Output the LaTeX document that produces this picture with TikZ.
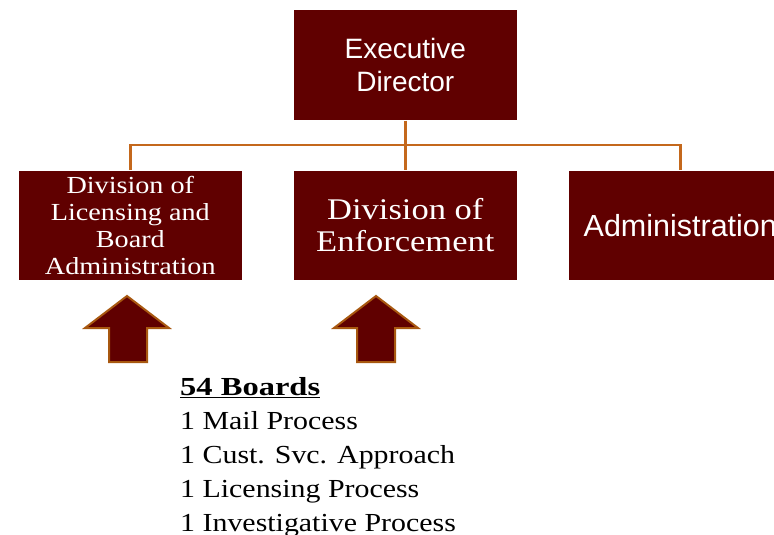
\documentclass[tikz,border=0pt]{standalone}
\usepackage{fontspec}
\setmainfont{Liberation Serif}[FakeStretch=1.15]
\newfontfamily\boldwide{Liberation Serif Bold}[FakeStretch=1.25]
\newfontfamily\boxsans{Liberation Sans}
\definecolor{maroon}{HTML}{600000}
\definecolor{linkor}{HTML}{C4681C}
\definecolor{arrowedge}{HTML}{A85810}
\begin{document}
\begin{tikzpicture}[x=1pt,y=-1pt,
  box/.style={fill=maroon, draw=white, line width=0.6pt, minimum width=224pt, minimum height=111pt, anchor=north west, inner sep=0pt, text=white, align=center},
  link/.style={draw=linkor, line width=2.4pt},
  uparrow/.style={fill=maroon, draw=arrowedge, line width=2pt, line join=miter}
]
\clip (0,0) rectangle (774,535);
\fill[white] (0,0) rectangle (774,535);

\node[box, font={\boxsans\fontsize{28}{33}\selectfont}] (ed) at (293,9) {Executive\\Director};
\node[box, font={\fontsize{24.5}{27}\selectfont}, minimum height=110pt] (lic) at (18,170) {Division of\\Licensing and\\Board\\Administration};
\node[box, font={\fontsize{30}{32}\selectfont}, minimum height=110pt] (enf) at (293,170) {Division of\\Enforcement};
\node[box, font={\boxsans\fontsize{30.5}{33}\selectfont}, minimum height=110pt] (adm) at (568,170) {Administration};

\coordinate (bus) at (405,145);
\draw[link] (ed.south) -- (enf.north);
\draw[link] (lic.north) -- (lic.north |- bus) -- (adm.north |- bus) -- (adm.north);

\draw[uparrow] (127,296) -- (169,328) -- (147,328) -- (147,362) -- (109,362) -- (109,328) -- (85,328) -- cycle;
\draw[uparrow] (376,296) -- (418,328) -- (395,328) -- (395,362) -- (357,362) -- (357,328) -- (334,328) -- cycle;

\node[anchor=north west, align=left, inner sep=0pt, font={\fontsize{26}{34}\selectfont}] (list) at (180,377)
{{\boldwide\underline{54 Boards}}\\
1 Mail Process\\
1 Cust. Svc. Approach\\
1 Licensing Process\\
1 Investigative Process};
\end{tikzpicture}
\end{document}
